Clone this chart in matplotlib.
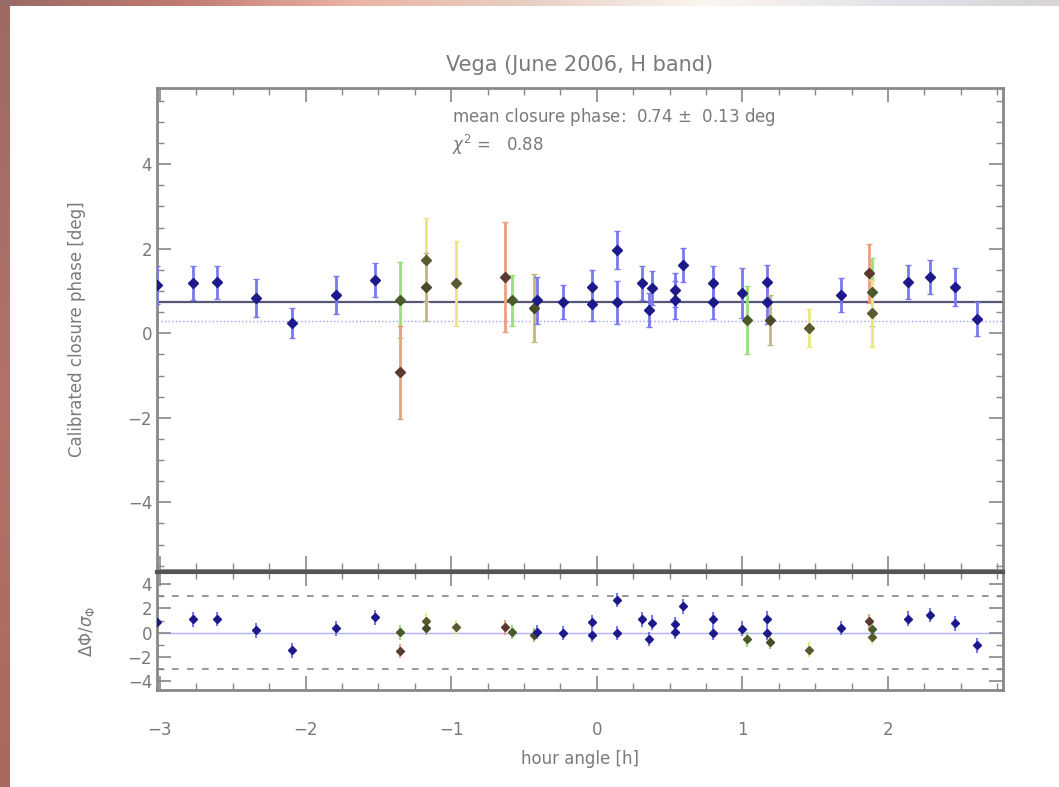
import numpy as np
import matplotlib.pyplot as plt
from matplotlib.colors import LinearSegmentedColormap
from matplotlib.ticker import MultipleLocator

# closure phase measurements (hour angle [h], phase [deg], error [deg])
hour = [-3.02, -2.77, -2.61, -2.34, -2.09, -1.79, -1.52, -1.35, -1.35, -1.17,
        -1.17, -0.97, -0.63, -0.58, -0.43, -0.41, -0.23, -0.03, -0.03, 0.14,
        0.14, 0.31, 0.38, 0.36, 0.54, 0.54, 0.59, 0.80, 0.80, 1.00,
        1.03, 1.17, 1.17, 1.19, 1.46, 1.68, 1.87, 1.89, 1.89, 2.14,
        2.29, 2.46, 2.61]
phase = [1.14, 1.18, 1.20, 0.83, 0.24, 0.90, 1.25, 0.78, -0.92, 1.73,
         1.09, 1.18, 1.33, 0.78, 0.60, 0.78, 0.73, 1.09, 0.68, 1.96,
         0.73, 1.18, 1.07, 0.54, 1.02, 0.78, 1.61, 1.18, 0.73, 0.95,
         0.31, 1.21, 0.73, 0.31, 0.12, 0.90, 1.42, 0.97, 0.47, 1.21,
         1.33, 1.09, 0.33]
err = [0.45, 0.40, 0.40, 0.45, 0.35, 0.45, 0.40, 0.90, 1.10, 1.00,
       0.80, 1.00, 1.30, 0.60, 0.80, 0.55, 0.40, 0.40, 0.40, 0.45,
       0.50, 0.40, 0.40, 0.40, 0.40, 0.45, 0.40, 0.40, 0.40, 0.60,
       0.80, 0.40, 0.50, 0.60, 0.45, 0.40, 0.70, 0.80, 0.80, 0.40,
       0.40, 0.45, 0.40]
group = ['b', 'b', 'b', 'b', 'b', 'b', 'b', 'g', 'r', 'y',
         'o', 'y', 'r', 'g', 'o', 'b', 'b', 'b', 'b', 'b',
         'b', 'b', 'b', 'b', 'b', 'b', 'b', 'b', 'b', 'b',
         'g', 'b', 'b', 'o', 'y', 'b', 'r', 'g', 'y', 'b',
         'b', 'b', 'b']

mean_phase = 0.74
mean_err = 0.13
chi2 = 0.88
model_phase = 0.30

bar_colors = {'b': '#7a78f0', 'g': '#9ade78', 'r': '#eaa080', 'y': '#ecE680', 'o': '#c0b880'}
dot_colors = {'b': '#1c1a8a', 'g': '#4a5a2a', 'r': '#5a3a30', 'y': '#5a5a30', 'o': '#4a4a2a'}

ink = '#7a7a7a'
plt.rcParams['font.family'] = 'DejaVu Sans'
plt.rcParams['font.size'] = 12

fig = plt.figure(figsize=(10.59, 7.87), dpi=100)

# slide border: left strip and top gradient
left = fig.add_axes([0, 0, 10 / 1059, 1])
left.imshow(np.linspace(0, 1, 50)[:, None], aspect='auto',
            cmap=LinearSegmentedColormap.from_list('l', ['#a06a64', '#b0726a', '#a86a60']))
left.axis('off')
top = fig.add_axes([0, 1 - 6 / 787, 1, 6 / 787])
top.imshow(np.linspace(0, 1, 200)[None, :], aspect='auto',
           cmap=LinearSegmentedColormap.from_list('t', ['#9a6a66', '#c07a70', '#eab4a4',
                                                        '#e8cfc4', '#fbf6ef', '#e4e4e8', '#d8d4d8']))
top.axis('off')

ax = fig.add_axes([157 / 1059, 1 - 570 / 787, 846 / 1059, 482 / 787])
axr = fig.add_axes([157 / 1059, 1 - 690 / 787, 846 / 1059, 118 / 787], sharex=ax)

ax.axhline(mean_phase, color='#555577', lw=1.6, zorder=2)
ax.axhline(model_phase, color='#a0a0ff', lw=1, ls=':', zorder=1)

for h, p, e, g in zip(hour, phase, err, group):
    ax.errorbar(h, p, yerr=e, fmt='D', ms=5, color=dot_colors[g], ecolor=bar_colors[g],
                elinewidth=2, capsize=2, capthick=1, zorder=3)

ax.set_xlim(-3.02, 2.79)
ax.set_ylim(-5.6, 5.8)
ax.yaxis.set_major_locator(MultipleLocator(2))
ax.yaxis.set_minor_locator(MultipleLocator(0.5))
ax.set_ylabel('Calibrated closure phase [deg]', color=ink, labelpad=30)
ax.set_title('Vega (June 2006, H band)', color=ink, fontsize=15, pad=12)
ax.text(0.349, 0.93, 'mean closure phase:  %.2f $\\pm$  %.2f deg' % (mean_phase, mean_err),
        transform=ax.transAxes, color=ink, fontsize=12)
ax.text(0.349, 0.87, '$\\chi^2$ =   %.2f' % chi2, transform=ax.transAxes, color=ink, fontsize=12)
plt.setp(ax.get_xticklabels(), visible=False)

# normalised residuals
resid = [(p - mean_phase) / e for p, e in zip(phase, err)]
axr.axhline(0, color='#b0b0ff', lw=1, zorder=1)
for lvl in (-3, 3):
    axr.axhline(lvl, color='#888888', lw=1.2, ls=(0, (4, 5)), zorder=1)
for h, r, g in zip(hour, resid, group):
    axr.errorbar(h, r, yerr=0.6, fmt='D', ms=4, color=dot_colors[g], ecolor=bar_colors[g],
                 elinewidth=1.5, zorder=3)
axr.set_ylim(-4.7, 5.0)
axr.yaxis.set_major_locator(MultipleLocator(2))
axr.yaxis.set_minor_locator(MultipleLocator(1))
axr.set_ylabel('$\\Delta\\Phi/\\sigma_\\Phi$', color=ink, labelpad=22)
axr.set_xlabel('hour angle [h]', color=ink, labelpad=8)
axr.xaxis.set_major_locator(MultipleLocator(1))
axr.xaxis.set_minor_locator(MultipleLocator(0.25))

for a in (ax, axr):
    for s in a.spines.values():
        s.set_color('#888888')
        s.set_linewidth(2)
    a.tick_params(which='both', direction='in', top=True, right=True, colors='#888888',
                  labelcolor=ink, labelsize=12)
    a.tick_params(which='major', length=10, width=1.2)
    a.tick_params(which='minor', length=5, width=1)
axr.tick_params(axis='x', which='major', pad=22)
axr.spines['top'].set_color('#555555')
axr.spines['top'].set_linewidth(3)

fig.savefig('out.png', dpi=100)
